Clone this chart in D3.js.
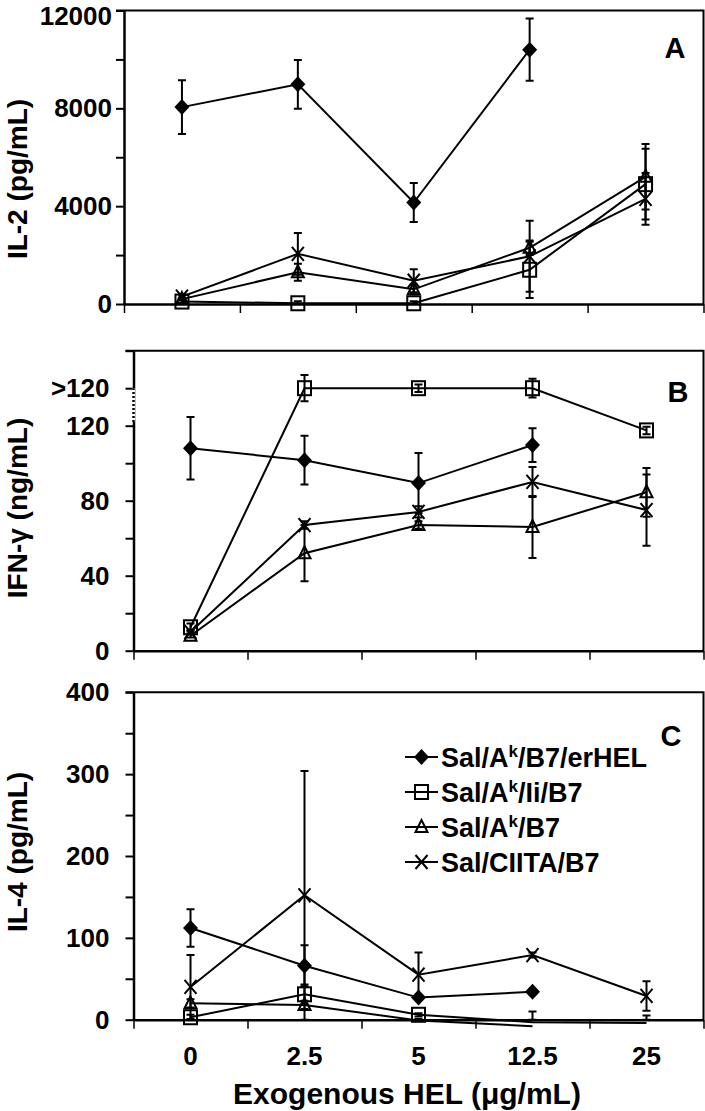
<!DOCTYPE html>
<html>
<head>
<meta charset="utf-8">
<script src="https://cdn.jsdelivr.net/npm/d3@7"></script>
<style>
  body { margin: 0; background: #fff; }
  svg { display: block; font-family: "Liberation Sans", Arial, sans-serif; font-weight: bold; }
</style>
</head>
<body>
<div id="vis"></div>
<script>
const WIDTH = 705;
const HEIGHT = 1111;

// x categories (exogenous HEL, ug/mL)
const CATEGORIES = ["0", "2.5", "5", "12.5", "25"];

// legend labels: [before superscript, superscript, after]
const SERIES_LABELS = [
    ["Sal/A", "k", "/B7/erHEL"],
    ["Sal/A", "k", "/Ii/B7"],
    ["Sal/A", "k", "/B7"],
    ["Sal/CIITA/B7", "", ""]
];
const SERIES_MARKERS = ["diamond", "square", "triangle", "cross"];

// panel A: IL-2 (pg/mL)
const IL2_ERHEL = [8050, 8980, 4150, 10400, null];
const IL2_ERHEL_ERR = [1100, 1000, 800, 1270, null];
const IL2_II = [100, 30, 30, 1400, 4900];
const IL2_II_ERR = [60, 80, 80, 1150, 1450];
const IL2_AKB7 = [200, 1300, 600, 2300, 5200];
const IL2_AKB7_ERR = [60, 350, 200, 300, 1340];
const IL2_CIITA = [300, 2050, 950, 1950, 4300];
const IL2_CIITA_ERR = [80, 850, 470, 1450, 1060];
const IL2_TICKS = [0, 2000, 4000, 6000, 8000, 10000, 12000];
const IL2_LABELS = ["0", "", "4000", "", "8000", "", "12000"];

// panel B: IFN-gamma (ng/mL); 140 on the axis stands for ">120"
const IFNG_ERHEL = [108, 101.6, 89.4, 109.7, null];
const IFNG_ERHEL_ERR = [16.7, 13, 16, 9, null];
const IFNG_II = [12.5, 140, 140, 140, 117.5];
const IFNG_II_ERR = [2, 7, 2, 5, 2];
const IFNG_AKB7 = [8, 52, 67, 66, 84.5];
const IFNG_AKB7_ERR = [1, 15, 2, 16.5, 13];
const IFNG_CIITA = [10, 67, 74, 90, 75];
const IFNG_CIITA_ERR = [1, 2, 3, 8, 19];
const IFNG_TICKS = [0, 20, 40, 60, 80, 100, 120, 140, 160];
const IFNG_LABELS = ["0", "", "40", "", "80", "", "120", ">120", ""];

// panel C: IL-4 (pg/mL)
const IL4_ERHEL = [112, 66, 27, 34, null];
const IL4_ERHEL_ERR = [23, 25, 3, 3, null];
const IL4_II = [3, 31, 6, -3, -4];
const IL4_II_ERR = [3, 12, 2, 13, 9];
const IL4_AKB7 = [20, 18, -1, -8, null];
const IL4_AKB7_ERR = [5, 5, 2, 0, null];
const IL4_CIITA = [40, 152, 55, 79, 29];
const IL4_CIITA_ERR = [39, 152, 27, 3, 18];
const IL4_TICKS = [0, 50, 100, 150, 200, 250, 300, 350, 400];
const IL4_LABELS = ["0", "", "100", "", "200", "", "300", "", "400"];

const PANELS = [
    {letter: "A", title: "IL-2 (pg/mL)", max: 12000, ticks: IL2_TICKS, labels: IL2_LABELS,
     series: [[IL2_ERHEL, IL2_ERHEL_ERR], [IL2_II, IL2_II_ERR], [IL2_AKB7, IL2_AKB7_ERR], [IL2_CIITA, IL2_CIITA_ERR]],
     left: 124, right: 703.5, top: 10.5, bottom: 304, pad: 4, titleY: 179, letterX: 675, letterY: 58},
    {letter: "B", title: "IFN-\u03b3 (ng/mL)", max: 160, ticks: IFNG_TICKS, labels: IFNG_LABELS,
     series: [[IFNG_ERHEL, IFNG_ERHEL_ERR], [IFNG_II, IFNG_II_ERR], [IFNG_AKB7, IFNG_AKB7_ERR], [IFNG_CIITA, IFNG_CIITA_ERR]],
     left: 133.5, right: 703.5, top: 350.7, bottom: 650.7, pad: 16, titleY: 508, letterX: 678, letterY: 402, brk: [122, 140]},
    {letter: "C", title: "IL-4 (pg/mL)", max: 400, ticks: IL4_TICKS, labels: IL4_LABELS,
     series: [[IL4_ERHEL, IL4_ERHEL_ERR], [IL4_II, IL4_II_ERR], [IL4_AKB7, IL4_AKB7_ERR], [IL4_CIITA, IL4_CIITA_ERR]],
     left: 133.5, right: 703.5, top: 692.3, bottom: 1019.7, pad: 16, titleY: 852, letterX: 671, letterY: 746, xLabels: true}
];

const svg = d3.select("#vis")
    .append("svg")
    .attr("width", WIDTH)
    .attr("height", HEIGHT);

function marker(g, type, x, y) {
    if (type === "diamond") {
        g.append("path").attr("d", `M${x},${y - 8}L${x + 7.5},${y}L${x},${y + 8}L${x - 7.5},${y}Z`)
            .attr("fill", "#000");
    } else if (type === "square") {
        g.append("rect").attr("x", x - 6.5).attr("y", y - 7).attr("width", 13).attr("height", 14)
            .attr("fill", "none").attr("stroke", "#000").attr("stroke-width", 2);
    } else if (type === "triangle") {
        g.append("path").attr("d", `M${x},${y - 7}L${x + 6},${y + 5}L${x - 6},${y + 5}Z`)
            .attr("fill", "none").attr("stroke", "#000").attr("stroke-width", 2);
    } else {
        g.append("path").attr("d", `M${x - 6},${y - 7}L${x + 6},${y + 7}M${x - 6},${y + 7}L${x + 6},${y - 7}`)
            .attr("fill", "none").attr("stroke", "#000").attr("stroke-width", 2);
    }
}

PANELS.forEach((p) => {
    const g = svg.append("g");

    const X_POINT = d3.scalePoint().domain(CATEGORIES).range([p.left, p.right]).padding(0.5);
    const X_EDGE = d3.scaleLinear().domain([0, CATEGORIES.length]).range([p.left, p.right]);
    const Y_SCALE = d3.scaleLinear().domain([0, p.max]).range([p.bottom, p.top]);

    // frame: top and right
    g.append("path")
        .attr("d", `M${p.left - 8},${p.top}H${p.right}V${p.bottom}`)
        .attr("fill", "none").attr("stroke", "#000").attr("stroke-width", 2);

    // y axis
    const yAxis = g.append("g")
        .attr("transform", `translate(${p.left},0)`)
        .call(d3.axisLeft(Y_SCALE).tickValues(p.ticks).tickSize(8).tickSizeOuter(0)
            .tickPadding(p.pad).tickFormat((d, i) => p.labels[i]));
    yAxis.select(".domain").attr("stroke-width", 2.5);
    yAxis.selectAll(".tick line").attr("stroke-width", 2);
    yAxis.selectAll("text").attr("font-size", 26).attr("font-weight", "bold")
        .attr("font-family", "'Liberation Sans', Arial, sans-serif").attr("fill", "#000");
    // keep the top label of panel A inside the picture
    yAxis.selectAll("text").filter((d) => Y_SCALE(d) < 20)
        .attr("y", (d) => 24 - Y_SCALE(d)).attr("dy", 0);

    // axis break mark
    if (p.brk) {
        g.append("line").attr("x1", p.left).attr("x2", p.left)
            .attr("y1", Y_SCALE(p.brk[0])).attr("y2", Y_SCALE(p.brk[1]))
            .attr("stroke", "#fff").attr("stroke-width", 3);
        g.append("line").attr("x1", p.left).attr("x2", p.left)
            .attr("y1", Y_SCALE(p.brk[0])).attr("y2", Y_SCALE(p.brk[1]))
            .attr("stroke", "#000").attr("stroke-width", 2.5).attr("stroke-dasharray", "2,2");
    }

    // x axis with ticks at category boundaries
    const xAxis = g.append("g")
        .attr("transform", `translate(0,${p.bottom})`)
        .call(d3.axisBottom(X_EDGE).tickValues(d3.range(CATEGORIES.length + 1))
            .tickSize(9).tickSizeOuter(0).tickFormat(""));
    xAxis.select(".domain").attr("stroke-width", 2.5);
    xAxis.selectAll(".tick line").attr("stroke-width", 1.5);

    if (p.xLabels) {
        g.selectAll(".xlab")
            .data(CATEGORIES)
            .enter()
            .append("text")
            .attr("x", (d) => X_POINT(d))
            .attr("y", 1065)
            .attr("text-anchor", "middle")
            .attr("font-size", 26)
            .text((d) => d);
    }

    // y title
    g.append("text")
        .attr("transform", `translate(27,${p.titleY}) rotate(-90)`)
        .attr("text-anchor", "middle")
        .attr("font-size", 28)
        .text(p.title);

    // panel letter
    g.append("text")
        .attr("x", p.letterX).attr("y", p.letterY)
        .attr("text-anchor", "middle")
        .attr("font-size", 29)
        .text(p.letter);

    // series
    p.series.forEach((s, si) => {
        const vals = s[0], errs = s[1];
        const line = d3.line()
            .defined((d) => d != null)
            .x((d, i) => X_POINT(CATEGORIES[i]))
            .y((d) => Y_SCALE(d));
        g.append("path")
            .datum(vals)
            .attr("d", line)
            .attr("fill", "none")
            .attr("stroke", "#000")
            .attr("stroke-width", 2);

        vals.forEach((v, i) => {
            if (v == null) return;
            const x = X_POINT(CATEGORIES[i]);
            const e = errs[i] || 0;
            if (e > 0) {
                const lo = Y_SCALE(Math.max(0, v - e));
                const hi = Y_SCALE(Math.min(p.max, v + e));
                g.append("path")
                    .attr("d", `M${x},${lo}V${hi}M${x - 4},${hi}H${x + 4}M${x - 4},${lo}H${x + 4}`)
                    .attr("fill", "none").attr("stroke", "#000").attr("stroke-width", 2);
            }
        });
        vals.forEach((v, i) => {
            if (v == null || v < 0) return;
            marker(g, SERIES_MARKERS[si], X_POINT(CATEGORIES[i]), Y_SCALE(v));
        });
    });
});

// legend in panel C
const LEGEND_Y = [757, 792, 827, 862];
const legend = svg.append("g");
SERIES_LABELS.forEach((lab, i) => {
    const y = LEGEND_Y[i];
    legend.append("line").attr("x1", 405).attr("x2", 438).attr("y1", y).attr("y2", y)
        .attr("stroke", "#000").attr("stroke-width", 2);
    marker(legend, SERIES_MARKERS[i], 421.5, y);
    const t = legend.append("text")
        .attr("x", 441).attr("y", y)
        .attr("dy", "0.36em")
        .attr("font-size", 27);
    t.append("tspan").text(lab[0]);
    if (lab[1]) {
        t.append("tspan").attr("font-size", 17).attr("dy", -10).text(lab[1]);
        t.append("tspan").attr("dy", 10).text(lab[2]);
    }
});

// x title
svg.append("text")
    .attr("x", 407).attr("y", 1104)
    .attr("text-anchor", "middle")
    .attr("font-size", 30)
    .text("Exogenous HEL (\u03bcg/mL)");
</script>
</body>
</html>
